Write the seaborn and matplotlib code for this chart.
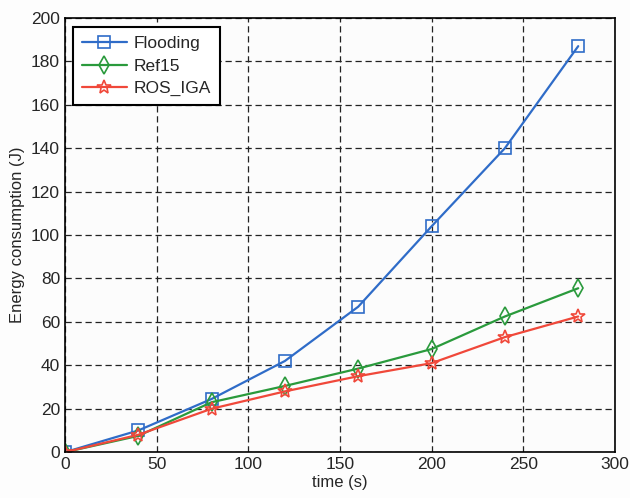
import matplotlib
matplotlib.use('Agg')
import matplotlib.pyplot as plt
import pandas as pd
import seaborn as sns

# values
time_s = [0, 40, 80, 120, 160, 200, 240, 280]
flooding = [0, 10, 24.5, 42, 67, 104, 140, 187]
ref15 = [0, 7.5, 23, 30.5, 38.5, 47.5, 62.5, 75.5]
ros_iga = [0, 8, 20, 28, 35, 41, 53, 62.5]
series_names = ['Flooding', 'Ref15', 'ROS_IGA']

df = pd.DataFrame({'time': time_s * 3,
                   'energy': flooding + ref15 + ros_iga,
                   'method': [n for n in series_names for _ in time_s]})

sns.set_style('white')
plt.rcParams['font.family'] = ['Liberation Sans', 'DejaVu Sans']

colors = {'Flooding': '#2f6cc8', 'Ref15': '#2a9a3c', 'ROS_IGA': '#f0483a'}
markers = {'Flooding': 's', 'Ref15': 'd', 'ROS_IGA': '*'}
msizes = {'Flooding': 8, 'Ref15': 9, 'ROS_IGA': 10}

fig = plt.figure(figsize=(6.3, 4.98), dpi=100)
fig.patch.set_facecolor('#fdfdfd')
ax = fig.add_axes([0.103, 0.092, 0.873, 0.872])
ax.set_facecolor('#fcfcfc')

for name in series_names:
    sub = df[df['method'] == name]
    sns.lineplot(data=sub, x='time', y='energy', ax=ax, color=colors[name],
                 marker=markers[name], markersize=msizes[name],
                 markerfacecolor='none', markeredgecolor=colors[name],
                 markeredgewidth=1.2, linewidth=1.6, label=name)

ax.set_xlim(0, 300)
ax.set_ylim(0, 200)
ax.set_xticks(range(0, 301, 50))
ax.set_yticks(range(0, 201, 20))
ax.grid(True, color='#222222', linestyle=(0, (5, 3)), linewidth=0.9)
ax.tick_params(labelsize=12.5, direction='in', length=4)
for s in ax.spines.values():
    s.set_color('black')
    s.set_linewidth(1.2)

ax.set_xlabel('time (s)', fontsize=12, labelpad=2)
ax.set_ylabel('Energy consumption (J)', fontsize=12, labelpad=4)

leg = ax.legend(loc='upper left', fontsize=12.5, fancybox=False, framealpha=1,
                edgecolor='black', handlelength=2.6, handletextpad=0.4,
                borderpad=0.5, labelspacing=0.42, borderaxespad=0,
                bbox_to_anchor=(0.015, 0.978))
leg.get_frame().set_linewidth(1.5)

plt.savefig('out.png', dpi=100, facecolor=fig.get_facecolor())
